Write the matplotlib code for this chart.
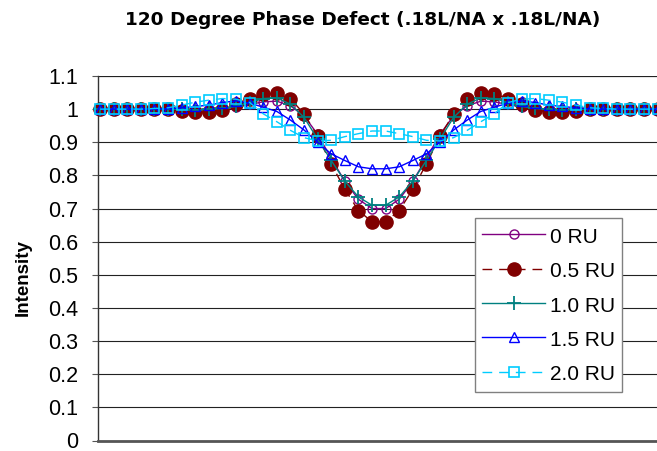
import matplotlib
matplotlib.use("Agg")
import matplotlib.pyplot as plt

plt.rcParams['font.family'] = ['Liberation Sans', 'DejaVu Sans']

title = "120 Degree Phase Defect (.18L/NA x .18L/NA)"
ylabel = "Intensity"
labels = ["0 RU", "0.5 RU", "1.0 RU", "1.5 RU", "2.0 RU"]
yticks = [0, 0.1, 0.2, 0.3, 0.4, 0.5, 0.6, 0.7, 0.8, 0.9, 1.0, 1.1]
yticklabels = ["0", "0.1", "0.2", "0.3", "0.4", "0.5", "0.6", "0.7", "0.8", "0.9", "1", "1.1"]

ru00 = [1.0, 1.0, 1.0, 1.0, 1.0, 0.999, 0.998, 0.997, 0.998, 1.001, 1.006,
        1.014, 1.022, 1.024, 1.01, 0.98, 0.924, 0.852, 0.782, 0.728, 0.70,
        0.70, 0.728, 0.782, 0.852, 0.924, 0.98, 1.01, 1.024, 1.022, 1.014,
        1.006, 1.001, 0.998, 0.997, 0.998, 0.999, 1.0, 1.0, 1.0, 1.0, 1.0]
ru05 = [1.0, 1.0, 1.0, 1.0, 1.0, 0.999, 0.995, 0.991, 0.991, 0.998, 1.015,
        1.032, 1.046, 1.048, 1.031, 0.986, 0.918, 0.835, 0.758, 0.694, 0.66,
        0.66, 0.694, 0.758, 0.835, 0.918, 0.986, 1.031, 1.048, 1.046, 1.032,
        1.015, 0.998, 0.991, 0.991, 0.995, 0.999, 1.0, 1.0, 1.0, 1.0, 1.0]
ru10 = [1.0, 1.0, 1.0, 1.0, 1.0, 1.0, 0.999, 0.998, 0.999, 1.002, 1.008,
        1.02, 1.032, 1.034, 1.015, 0.975, 0.91, 0.845, 0.783, 0.735, 0.71,
        0.71, 0.735, 0.783, 0.845, 0.91, 0.975, 1.015, 1.034, 1.032, 1.02,
        1.008, 1.002, 0.999, 0.998, 0.999, 1.0, 1.0, 1.0, 1.0, 1.0, 1.0]
ru15 = [1.0, 1.0, 1.0, 1.0, 1.0, 1.001, 1.004, 1.008, 1.012, 1.02, 1.025,
        1.018, 1.006, 0.993, 0.967, 0.937, 0.9, 0.865, 0.845, 0.826, 0.82,
        0.82, 0.826, 0.845, 0.865, 0.9, 0.937, 0.967, 0.993, 1.006, 1.018,
        1.025, 1.02, 1.012, 1.008, 1.004, 1.001, 1.0, 1.0, 1.0, 1.0, 1.0]
ru20 = [1.0, 1.0, 1.0, 1.0, 1.002, 1.004, 1.012, 1.021, 1.027, 1.032, 1.03,
        1.02, 0.986, 0.962, 0.936, 0.914, 0.904, 0.906, 0.917, 0.926, 0.934,
        0.934, 0.926, 0.917, 0.906, 0.904, 0.914, 0.936, 0.962, 0.986, 1.02,
        1.03, 1.032, 1.027, 1.021, 1.012, 1.004, 1.002, 1.0, 1.0, 1.0, 1.0]

series = [ru00, ru05, ru10, ru15, ru20]
x = list(range(len(ru00)))

W, H = 657, 451
fig = plt.figure(figsize=(W / 100, H / 100), dpi=100)
ax_l, ax_r, ax_t, ax_b = 98, 657, 76, 440.5
ax = fig.add_axes([ax_l / W, (H - ax_b) / H, (ax_r - ax_l) / W, (ax_b - ax_t) / H])

styles = [
    dict(color='#800080', ls='-', marker='o', ms=6.5, mfc='none', mec='#800080', mew=1.0),
    dict(color='#800000', ls=(0, (7, 5)), marker='o', ms=9.5, mfc='#800000', mec='#800000', mew=1.0),
    dict(color='#008080', ls='-', marker='+', ms=9.5, mfc='none', mec='#008080', mew=1.3),
    dict(color='#0000FF', ls='-', marker='^', ms=7, mfc='none', mec='#0000FF', mew=1.0),
    dict(color='#00CCFF', ls=(0, (7, 5)), marker='s', ms=7.5, mfc='none', mec='#00CCFF', mew=1.2),
]

handles = []
for vals, st, lab in zip(series, styles, labels):
    ln, = ax.plot(x, vals, lw=1.0, label=lab, clip_on=False, zorder=3, **st)
    handles.append(ln)

ax.set_xlim(-0.15, (657 - 100) / 13.6)
ax.set_ylim(0, 1.1)
ax.set_yticks(yticks)
ax.set_yticklabels(yticklabels, fontsize=15.5)
ax.set_xticks([])
ax.grid(axis='y', color='#222222', lw=0.8, zorder=1)
ax.axhline(1.1, color='#222222', lw=0.8, zorder=1)
ax.tick_params(axis='y', length=4, width=0.8, color='#555555', pad=10)
for s in ['top', 'right']:
    ax.spines[s].set_visible(False)
ax.spines['left'].set_color('#333333')
ax.spines['left'].set_linewidth(1.0)
ax.spines['bottom'].set_color('#555555')
ax.spines['bottom'].set_linewidth(2.0)
ax.set_axisbelow(True)

fig.text(363 / W, 1 - 25 / H, title, ha='center', va='baseline',
         fontsize=13.3, fontweight='bold', family=['DejaVu Sans'])
fig.text(23 / W, 1 - 278 / H, ylabel, ha='center', va='center', rotation=90,
         fontsize=13.5, fontweight='bold')

ax_w = ax_r - ax_l
ax_h = ax_b - ax_t
leg = ax.legend(handles=handles, loc='upper left',
                bbox_to_anchor=((475 - ax_l) / ax_w, (ax_b - 218) / ax_h),
                fontsize=15, frameon=True, fancybox=False, framealpha=1,
                edgecolor='#808080', handlelength=3.0, handletextpad=0.25,
                handleheight=1.22, labelspacing=0.6, borderpad=0.35,
                borderaxespad=0)
leg.get_frame().set_linewidth(1.0)
leg.set_zorder(5)

fig.savefig("out.png", dpi=100)
